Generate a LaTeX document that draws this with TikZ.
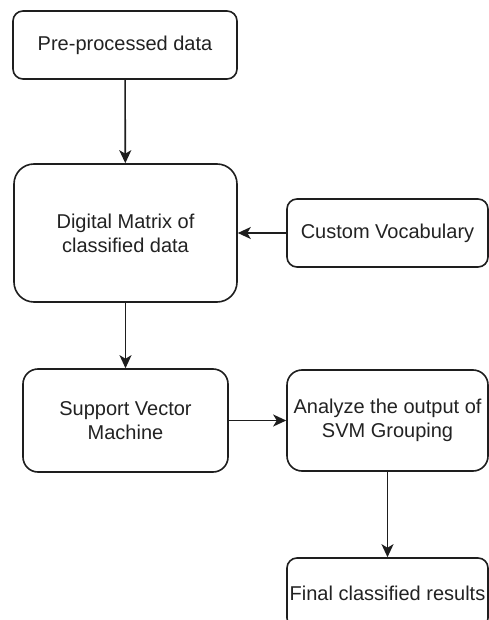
\documentclass[tikz,border=0pt]{standalone}
\usepackage{fontspec}
\setmainfont{Liberation Sans}
\usetikzlibrary{arrows.meta}
\definecolor{ink}{HTML}{1E1E1E}
\definecolor{txt}{HTML}{222222}
\tikzset{
  box/.style={draw=ink, line width=1.6pt, fill=white, rectangle, inner sep=0pt,
    align=center, text=txt, font=\fontsize{20}{24}\selectfont},
  conn/.style={draw=ink, line width=1.6pt, -{Stealth[length=13pt,width=12pt,inset=3.5pt]}}
}
\begin{document}
\begin{tikzpicture}[x=1pt,y=-1pt]
\useasboundingbox (0,0) rectangle (489,620);
\clip (0,0) rectangle (489,620);
\fill[white] (0,0) rectangle (489,620);
\node[box, rounded corners=10pt, minimum width=224pt, minimum height=68pt] (pre) at (125,45) {Pre-processed data};
\node[box, rounded corners=20pt, minimum width=223pt, minimum height=138pt] (dm) at (125.5,233) {Digital Matrix of\\classified data};
\node[box, rounded corners=10pt, minimum width=201pt, minimum height=68pt] (cv) at (387.5,233) {Custom Vocabulary};
\node[box, rounded corners=15pt, minimum width=205pt, minimum height=103pt] (svm) at (125.5,420.5) {Support Vector\\Machine};
\node[box, rounded corners=15pt, minimum width=201pt, minimum height=101pt] (an) at (387.5,420.5) {Analyze the output of\\SVM Grouping};
\node[box, rounded corners=10pt, minimum width=201pt, minimum height=70pt] (fin) at (387.5,593) {Final classified results};
\draw[conn] (pre) -- (dm);
\draw[conn] (cv) -- (dm);
\draw[conn] (dm) -- (svm);
\draw[conn] (svm) -- (an);
\draw[conn] (an) -- (fin);
\end{tikzpicture}
\end{document}
